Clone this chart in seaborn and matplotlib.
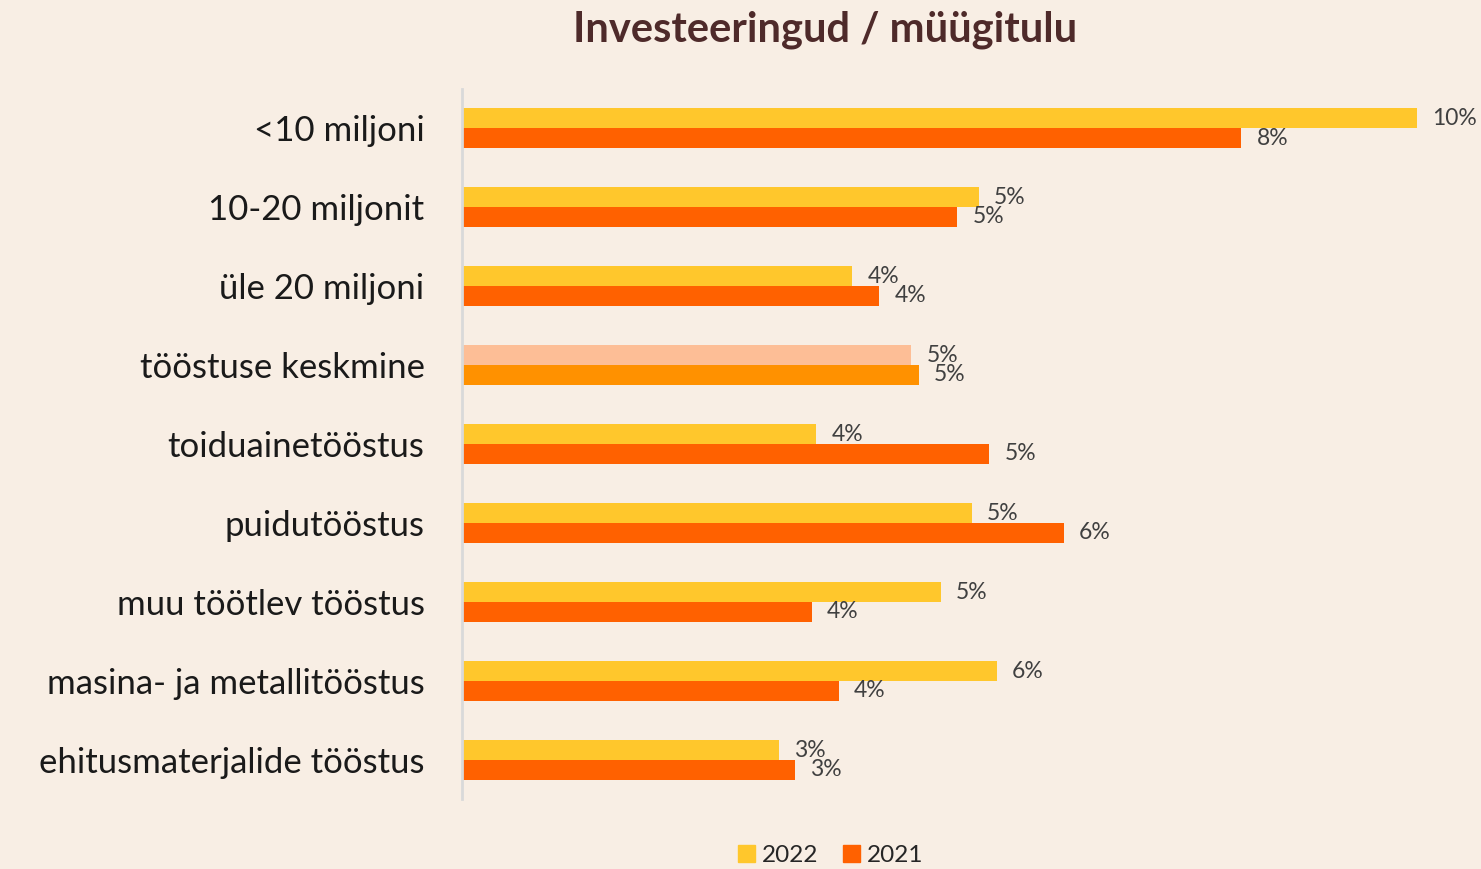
import pandas as pd
import numpy as np
import matplotlib.pyplot as plt
import seaborn as sns

# values (share of investments in sales, %)
categories = ["<10 miljoni", "10-20 miljonit", "üle 20 miljoni", "tööstuse keskmine",
              "toiduainetööstus", "puidutööstus", "muu töötlev tööstus",
              "masina- ja metallitööstus", "ehitusmaterjalide tööstus"]
years = ["2022", "2021"]
val_2022 = [9.89, 5.35, 4.04, 4.65, 3.67, 5.28, 4.96, 5.54, 3.28]
val_2021 = [8.07, 5.13, 4.32, 4.73, 5.46, 6.23, 3.62, 3.90, 3.45]

bg = "#F8EEE4"
col_2022 = "#FFC72C"
col_2021 = "#FF6100"
avg_2022 = "#FDBE96"
avg_2021 = "#FF9100"

df = pd.DataFrame({
    "kategooria": categories * 2,
    "aasta": [years[0]] * len(categories) + [years[1]] * len(categories),
    "vaartus": val_2022 + val_2021,
})

sns.set_style("white")
plt.rcParams["font.family"] = ["Lato", "DejaVu Sans"]

fig = plt.figure(figsize=(14.81, 8.69), dpi=100, facecolor=bg)
ax = fig.add_axes([0.312, 0.080, 0.678, 0.818])
ax.set_facecolor(bg)

sns.barplot(data=df, y="kategooria", x="vaartus", hue="aasta", orient="h",
            palette={"2022": col_2022, "2021": col_2021}, width=0.5,
            saturation=1, linewidth=0, ax=ax, legend=False)

# the industry average row uses lighter shades
avg_idx = categories.index("tööstuse keskmine")
ax.containers[0][avg_idx].set_facecolor(avg_2022)
ax.containers[1][avg_idx].set_facecolor(avg_2021)

for cont in ax.containers:
    ax.bar_label(cont, labels=[f"{p.get_width():.0f}%" for p in cont],
                 padding=11, fontsize=16.5, color="#404040")

ax.set_xlim(0, 10.4)
ax.set_ylim(len(categories) - 0.5, -0.5)
ax.set_xlabel("")
ax.set_ylabel("")
ax.set_xticks([])
ax.tick_params(axis="y", length=0, pad=27, labelsize=25, labelcolor="#1A1A1A")
for s in ["top", "right", "bottom"]:
    ax.spines[s].set_visible(False)
ax.spines["left"].set_color("#D9D9D9")
ax.spines["left"].set_linewidth(2)

fig.text(0.557, 0.966, "Investeeringud / müügitulu", ha="center", va="center",
         fontsize=30, fontweight="bold", color="#4E2A2A")

handles = [plt.Rectangle((0, 0), 1, 1, color=col_2022),
           plt.Rectangle((0, 0), 1, 1, color=col_2021)]
fig.legend(handles, years, loc="center", bbox_to_anchor=(0.561, 0.016), ncol=2,
           frameon=False, fontsize=17.5, handlelength=0.7, handleheight=0.7,
           handletextpad=0.3, columnspacing=1.0, labelcolor="#262626")

fig.savefig("out.png", dpi=100, facecolor=bg)
